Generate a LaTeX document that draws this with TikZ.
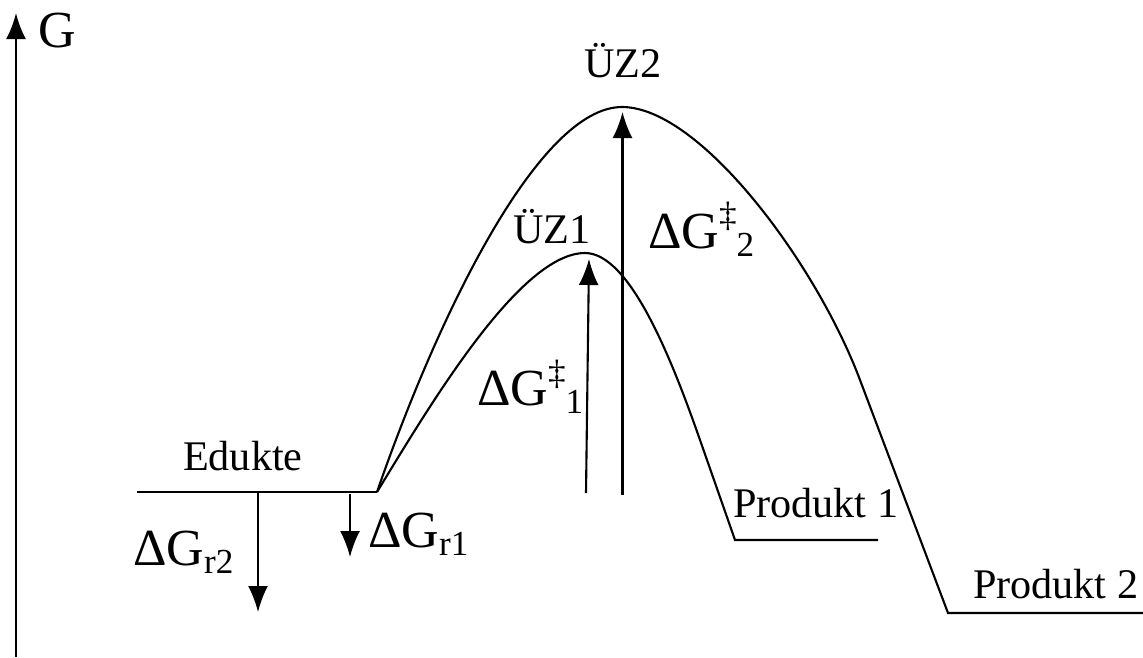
\documentclass[tikz,border=0pt]{standalone}
\usepackage{fontspec}
\setmainfont{Liberation Serif}
\usetikzlibrary{arrows.meta}
\newcommand{\tsub}[1]{\raisebox{-0.08cm}{\fontsize{10}{12}\selectfont #1}}
\newcommand{\tsup}[1]{\raisebox{0.21cm}{\fontsize{10}{12}\selectfont #1}}
\tikzset{
  lbl/.style={inner sep=0pt,anchor=base west,font=\fontsize{12}{14}\selectfont},
  dlbl/.style={inner sep=0pt,anchor=base west,font=\fontsize{14.8}{17}\selectfont}
}

\begin{document}
\begin{tikzpicture}[x=0.01cm,y=-0.01cm,>={Latex[length=0.26cm,width=0.2cm]},line width=0.6pt]
\useasboundingbox (0,0) rectangle (1143,657);
% axis
\coordinate (ax0) at (16,657);
\coordinate (ax1) at (16,13);
\draw[->,line width=0.7pt] (ax0) -- (ax1);
\node[dlbl] (g) at (37,47) {G};
% levels and barriers
\coordinate (ed0) at (137,492);
\coordinate (ed1) at (377,492);
\coordinate (ts1) at (585,253);
\coordinate (ts2) at (622,107);
\coordinate (k1) at (700,440);
\coordinate (k2) at (860,380);
\coordinate (p1a) at (735,540);
\coordinate (p1b) at (878,540);
\coordinate (p2a) at (948,613);
\coordinate (p2b) at (1143,613);
\draw (ed0) -- (ed1);
\draw (ed1) .. controls (430,405) and (520,253) .. (ts1) .. controls (630,253) and (672,360) .. (k1) -- (p1a) -- (p1b);
\draw (ed1) .. controls (440,310) and (540,107) .. (ts2) .. controls (700,107) and (816,263) .. (k2) -- (p2a) -- (p2b);
% energy arrows
\coordinate (r2s) at (258,493);
\coordinate (r2e) at (258,612);
\coordinate (r1s) at (350,494);
\coordinate (r1e) at (350,557);
\coordinate (b1s) at (586,493);
\coordinate (b1e) at (589,259);
\coordinate (b2s) at (622.5,495);
\coordinate (b2e) at (622.5,112);
\draw[->] (r2s) -- (r2e);
\draw[->] (r1s) -- (r1e);
\draw[->] (b1s) -- (b1e);
\draw[->] (b2s) -- (b2e);
% labels
\node[lbl] (edukte) at (182,470) {Edukte};
\node[lbl] (uz1) at (512,243) {ÜZ1};
\node[lbl] (uz2) at (583,77) {ÜZ2};
\node[lbl] (prod1) at (732,517) {Produkt 1};
\node[lbl] (prod2) at (972,598) {Produkt 2};
\node[dlbl] (dgr2) at (132,565) {ΔG\tsub{r2}};
\node[dlbl] (dgr1) at (367,547) {ΔG\tsub{r1}};
\node[dlbl] (dgb1) at (476,405) {ΔG\tsup{‡}\tsub{1}};
\node[dlbl] (dgb2) at (647,248) {ΔG\tsup{‡}\tsub{2}};
\end{tikzpicture}
\end{document}
